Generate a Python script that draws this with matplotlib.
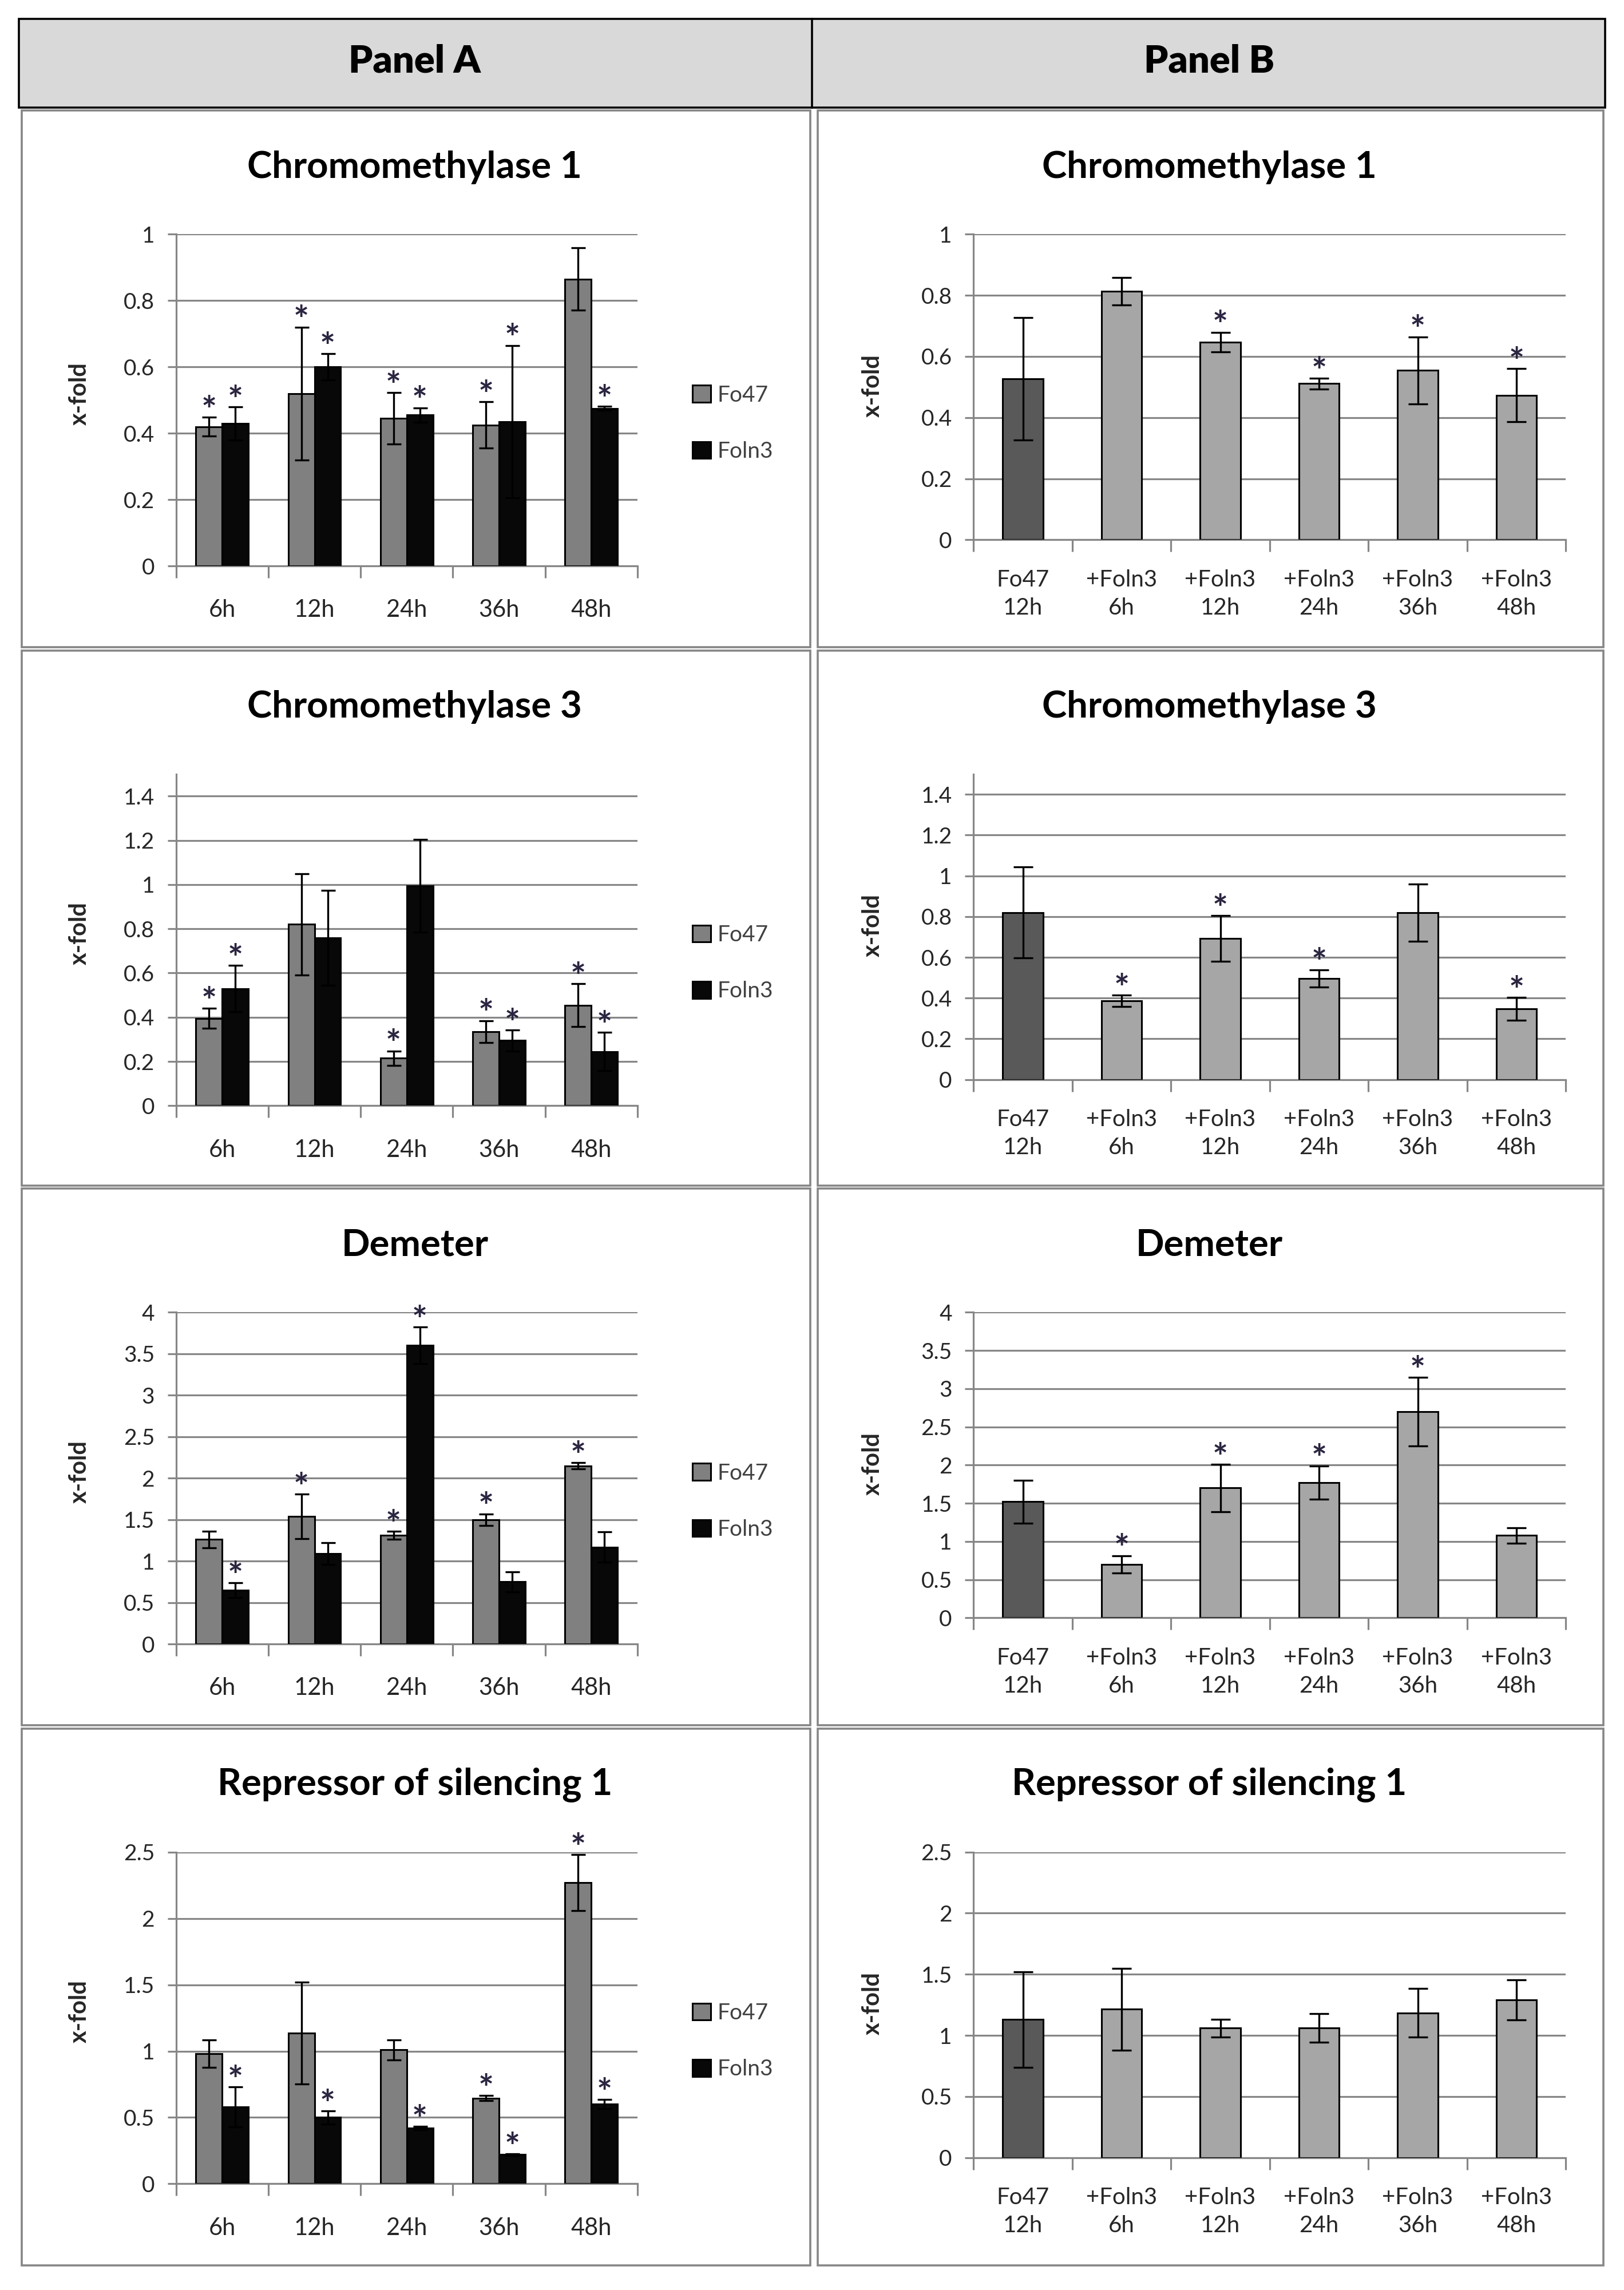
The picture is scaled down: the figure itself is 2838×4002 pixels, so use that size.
import matplotlib
matplotlib.use('Agg')
import matplotlib.pyplot as plt
from matplotlib.patches import Rectangle
from matplotlib.lines import Line2D
import numpy as np

plt.rcParams['font.family'] = ['Lato', 'DejaVu Sans']

# ---- data ----
genes = ['Chromomethylase 1', 'Chromomethylase 3', 'Demeter',
         'Repressor of silencing 1']
hours_a = ['6h', '12h', '24h', '36h', '48h']
labels_b = ['Fo47\n12h', '+Foln3\n6h', '+Foln3\n12h', '+Foln3\n24h',
            '+Foln3\n36h', '+Foln3\n48h']

# Panel A: Fo47 and Foln3 over time
cmt1_fo47 = [0.42, 0.52, 0.445, 0.425, 0.865]
cmt1_fo47_err = [0.028, 0.2, 0.077, 0.07, 0.094]
cmt1_foln3 = [0.43, 0.6, 0.455, 0.435, 0.475]
cmt1_foln3_err = [0.05, 0.04, 0.022, 0.23, 0.006]
cmt1_fo47_sig = [1, 1, 1, 1, 0]
cmt1_foln3_sig = [1, 1, 1, 1, 1]

cmt3_fo47 = [0.395, 0.82, 0.215, 0.335, 0.455]
cmt3_fo47_err = [0.046, 0.23, 0.033, 0.05, 0.097]
cmt3_foln3 = [0.53, 0.76, 0.995, 0.295, 0.245]
cmt3_foln3_err = [0.105, 0.215, 0.21, 0.048, 0.087]
cmt3_fo47_sig = [1, 0, 1, 1, 1]
cmt3_foln3_sig = [1, 0, 0, 1, 1]

dme_fo47 = [1.26, 1.54, 1.31, 1.5, 2.15]
dme_fo47_err = [0.1, 0.27, 0.05, 0.07, 0.035]
dme_foln3 = [0.65, 1.09, 3.6, 0.75, 1.17]
dme_foln3_err = [0.09, 0.13, 0.22, 0.12, 0.18]
dme_fo47_sig = [0, 1, 1, 1, 1]
dme_foln3_sig = [1, 0, 1, 0, 0]

ros1_fo47 = [0.98, 1.135, 1.01, 0.645, 2.27]
ros1_fo47_err = [0.105, 0.385, 0.075, 0.02, 0.21]
ros1_foln3 = [0.58, 0.5, 0.42, 0.22, 0.6]
ros1_foln3_err = [0.15, 0.05, 0.012, 0.005, 0.035]
ros1_fo47_sig = [0, 0, 0, 1, 1]
ros1_foln3_sig = [1, 1, 1, 1, 1]

# Panel B: Fo47 12h vs Fo47+Foln3 over time
b_cmt1 = [0.527, 0.813, 0.647, 0.511, 0.554, 0.473]
b_cmt1_err = [0.2, 0.045, 0.032, 0.018, 0.11, 0.087]
b_cmt1_sig = [0, 0, 1, 1, 1, 1]

b_cmt3 = [0.82, 0.387, 0.693, 0.497, 0.82, 0.347]
b_cmt3_err = [0.223, 0.028, 0.112, 0.042, 0.14, 0.056]
b_cmt3_sig = [0, 1, 1, 1, 0, 1]

b_dme = [1.52, 0.7, 1.7, 1.77, 2.7, 1.08]
b_dme_err = [0.28, 0.114, 0.31, 0.22, 0.45, 0.1]
b_dme_sig = [0, 1, 1, 1, 1, 0]

b_ros1 = [1.13, 1.215, 1.06, 1.06, 1.185, 1.29]
b_ros1_err = [0.39, 0.335, 0.072, 0.118, 0.2, 0.165]
b_ros1_sig = [0, 0, 0, 0, 0, 0]

# y axis: last gridline, step, axis top
y_last = [1.0, 1.4, 4.0, 2.5]
y_step = [0.2, 0.2, 0.5, 0.5]
y_top = [1.0, 1.5, 4.0, 2.5]

panel_a = [
    (cmt1_fo47, cmt1_fo47_err, cmt1_fo47_sig, cmt1_foln3, cmt1_foln3_err, cmt1_foln3_sig),
    (cmt3_fo47, cmt3_fo47_err, cmt3_fo47_sig, cmt3_foln3, cmt3_foln3_err, cmt3_foln3_sig),
    (dme_fo47, dme_fo47_err, dme_fo47_sig, dme_foln3, dme_foln3_err, dme_foln3_sig),
    (ros1_fo47, ros1_fo47_err, ros1_fo47_sig, ros1_foln3, ros1_foln3_err, ros1_foln3_sig),
]
panel_b = [
    (b_cmt1, b_cmt1_err, b_cmt1_sig),
    (b_cmt3, b_cmt3_err, b_cmt3_sig),
    (b_dme, b_dme_err, b_dme_sig),
    (b_ros1, b_ros1_err, b_ros1_sig),
]

# ---- styling ----
grid_c = '#868686'
text_c = '#262626'
star_c = '#2b2440'
c_fo47 = '#808080'
c_foln3 = '#080808'
c_b_ctrl = '#595959'
c_b_trt = '#a6a6a6'

W, H = 1116.0, 1574.0       # layout grid (reference scaled down)
row_tops = [76, 447, 817, 1188]
row_bots = [445, 815, 1186, 1557]

fig = plt.figure(figsize=(28.38, 40.02), dpi=100)


def frect(x0, y0, x1, y1):
    return [x0 / W, 1 - y1 / H, (x1 - x0) / W, (y1 - y0) / H]


# header bar
fig.add_artist(Rectangle((13 / W, 1 - 74 / H), (1103 - 13) / W, 61 / H,
                         transform=fig.transFigure, facecolor='#d9d9d9',
                         edgecolor='black', lw=2.6))
fig.add_artist(Line2D([558 / W, 558 / W], [1 - 13 / H, 1 - 74 / H],
                      transform=fig.transFigure, color='black', lw=2.6))
fig.text(285 / W, 1 - 42 / H, 'Panel A', ha='center', va='center',
         fontsize=48, fontweight='heavy', color='black')
fig.text(831 / W, 1 - 42 / H, 'Panel B', ha='center', va='center',
         fontsize=48, fontweight='heavy', color='black')

# cell frames
for T, B in zip(row_tops, row_bots):
    for x0, x1 in [(15, 557), (562, 1102)]:
        fig.add_artist(Rectangle((x0 / W, 1 - B / H), (x1 - x0) / W, (B - T) / H,
                                 transform=fig.transFigure, fill=False,
                                 edgecolor=grid_c, lw=2.6))


def style_axes(ax, n, last, step, top, labels, xpad):
    ax.set_xlim(-0.5, n - 0.5)
    ax.set_ylim(0, top)
    ticks = np.arange(0, last + step / 2, step)
    ax.set_yticks(ticks)
    ax.set_yticklabels([f'{t:g}' for t in ticks])
    ax.yaxis.grid(True, color=grid_c, lw=2.3)
    ax.set_axisbelow(True)
    for s in ['top', 'right']:
        ax.spines[s].set_visible(False)
    for s in ['left', 'bottom']:
        ax.spines[s].set_color(grid_c)
        ax.spines[s].set_linewidth(2.3)
    ax.tick_params(axis='y', length=11, width=2.3, color=grid_c,
                   labelsize=28, labelcolor=text_c, pad=16)
    ax.set_xticks(np.arange(n))
    ax.set_xticklabels(labels)
    ax.set_xticks(np.arange(n + 1) - 0.5, minor=True)
    ax.tick_params(axis='x', which='major', length=0, pad=xpad,
                   labelcolor=text_c)
    ax.tick_params(axis='x', which='minor', length=15, width=2.3,
                   color=grid_c)


def stars(ax, xs, vals, errs, sig):
    for xi, v, e, s in zip(xs, vals, errs, sig):
        if s:
            ax.annotate('*', (xi, v + e), xytext=(0, -7), textcoords='offset points',
                        ha='center', va='baseline', fontsize=46,
                        fontweight='bold', color=star_c, zorder=6,
                        annotation_clip=False)


err_a = dict(ecolor='black', elinewidth=2.4, capsize=9, capthick=2.4, zorder=4)
err_b = dict(ecolor='black', elinewidth=2.4, capsize=12, capthick=2.4, zorder=4)

for r, T in enumerate(row_tops):
    # ---- panel A ----
    fo, fo_e, fo_s, fl, fl_e, fl_s = panel_a[r]
    ax = fig.add_axes(frect(121, T + 85, 438, T + 313))
    x = np.arange(len(hours_a))
    w = 0.285
    b1 = ax.bar(x - w / 2, fo, w, yerr=fo_e, color=c_fo47, edgecolor='black',
                lw=2.2, error_kw=err_a, label='Fo47', zorder=3)
    b2 = ax.bar(x + w / 2, fl, w, yerr=fl_e, color=c_foln3, edgecolor='black',
                lw=2.2, error_kw=err_a, label='Foln3', zorder=3)
    style_axes(ax, len(hours_a), y_last[r], y_step[r], y_top[r], hours_a, 42)
    for lab in ax.get_xticklabels():
        lab.set_fontsize(30)
    stars(ax, x - w / 2, fo, fo_e, fo_s)
    stars(ax, x + w / 2, fl, fl_e, fl_s)
    ax.set_ylabel('x-fold', fontsize=30, fontweight='bold', color=text_c)
    ax.yaxis.set_label_coords(-0.186, 0.52)
    ax.legend(handles=[b1, b2], loc='center left',
              bbox_to_anchor=(476 / W, 1 - (T + 215) / H),
              bbox_transform=fig.transFigure, frameon=False, fontsize=28,
              handlelength=0.8, handleheight=0.8, handletextpad=0.3,
              labelspacing=1.6, borderpad=0, borderaxespad=0,
              labelcolor='#404040')
    fig.text(285 / W, 1 - (T + 39) / H, genes[r], ha='center', va='center',
             fontsize=47, fontweight='bold', color='black')

    # ---- panel B ----
    vals, errs, sig = panel_b[r]
    ax = fig.add_axes(frect(669, T + 85, 1076, T + 295))
    xb = np.arange(len(labels_b))
    colors = [c_b_ctrl] + [c_b_trt] * (len(labels_b) - 1)
    ax.bar(xb, vals, 0.41, yerr=errs, color=colors, edgecolor='black',
           lw=2.2, error_kw=err_b, zorder=3)
    style_axes(ax, len(labels_b), y_last[r], y_step[r], y_top[r], labels_b, 37)
    for lab in ax.get_xticklabels():
        lab.set_fontsize(29)
        lab.set_linespacing(1.4)
    stars(ax, xb, vals, errs, sig)
    ax.set_ylabel('x-fold', fontsize=30, fontweight='bold', color=text_c)
    ax.yaxis.set_label_coords(-0.152, 0.505)
    fig.text(831 / W, 1 - (T + 39) / H, genes[r], ha='center', va='center',
             fontsize=47, fontweight='bold', color='black')

fig.savefig('out.png', dpi=100, facecolor='white')
